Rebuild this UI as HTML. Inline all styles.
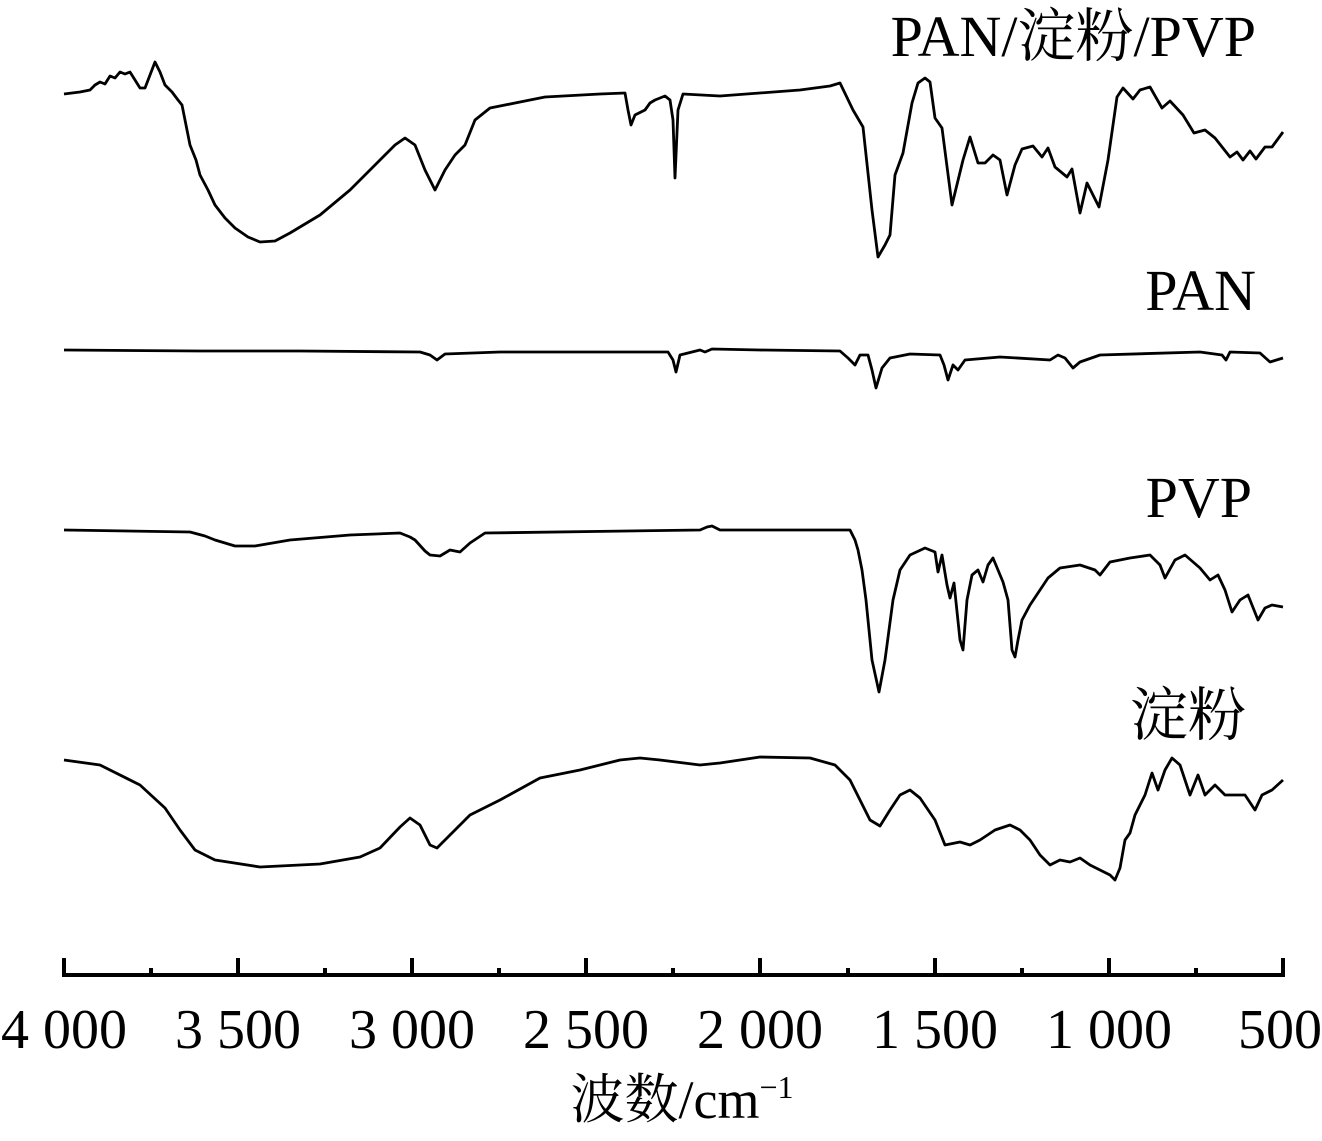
<!DOCTYPE html>
<html><head><meta charset="utf-8"><style>body{margin:0;background:#fff}</style></head><body>
<svg width="1322" height="1141" xmlns="http://www.w3.org/2000/svg" style="display:block">
<g fill="none" stroke="#000" stroke-width="2.8" stroke-linejoin="round">
<polyline points="64,94 80,92 90,90 95,85 100,82 105,84 110,76 115,78 120,72 125,74 130,72 135,80 140,88 145,88 150,75 155,62 160,72 165,85 172,92 178,100 182,105 185,120 190,145 196,160 200,175 208,190 215,205 225,218 235,228 248,237 260,242 275,241 290,233 320,215 350,190 380,160 395,145 405,138 415,145 425,170 435,190 445,170 455,155 465,145 475,120 490,108 520,102 545,97 600,94 625,93 628,110 631,125 635,115 645,110 650,103 655,100 665,96 670,100 673,120 675,178 678,110 683,94 720,96 800,90 830,86 840,83 853,110 863,127 872,210 878,257 885,245 890,235 895,175 903,153 912,103 918,83 925,78 930,82 935,118 942,128 952,205 963,160 970,137 978,163 985,163 993,155 1000,160 1007,195 1015,165 1022,149 1033,146 1042,157 1048,148 1055,167 1067,177 1072,169 1080,213 1087,183 1093,195 1099,207 1108,160 1117,97 1123,88 1133,99 1140,90 1150,87 1162,108 1170,101 1183,115 1194,133 1205,130 1215,138 1230,157 1237,152 1243,160 1250,151 1256,159 1265,147 1272,147 1283,132"/>
<polyline points="64,350 200,351 300,351 420,352 430,355 437,360 445,354 500,352 600,352 668,352 673,360 676,372 680,355 700,350 705,352 712,349 760,350 840,351 848,358 855,365 860,355 868,355 872,370 876,388 882,368 890,358 910,354 940,355 944,365 948,380 953,365 958,370 965,360 1000,357 1050,360 1058,355 1065,358 1073,368 1080,362 1100,355 1200,352 1222,355 1226,360 1230,352 1260,353 1270,362 1283,358"/>
<polyline points="64,530 190,532 205,536 215,540 235,546 255,546 290,540 350,535 400,533 410,537 415,540 425,551 430,555 440,556 450,550 460,552 470,543 485,533 700,530 707,527 712,526 720,530 850,530 855,540 858,550 862,570 866,600 872,660 879,692 885,660 893,600 900,570 910,555 925,548 935,552 938,572 942,555 947,585 950,598 954,583 960,640 963,650 967,600 972,575 978,570 983,582 988,565 993,558 998,570 1003,582 1008,600 1012,650 1015,657 1018,640 1022,620 1030,605 1040,590 1048,578 1060,568 1080,565 1095,570 1100,575 1110,562 1130,558 1150,555 1160,565 1165,578 1175,560 1185,555 1200,568 1210,580 1218,575 1225,590 1232,612 1240,600 1248,595 1258,620 1265,608 1272,605 1283,607"/>
<polyline points="64,760 100,765 140,785 165,808 180,830 195,850 215,860 260,867 320,864 360,857 380,848 400,827 410,818 420,825 430,845 437,848 450,835 470,815 500,800 540,778 580,770 620,760 640,758 660,760 700,765 720,763 740,760 760,757 810,758 835,765 850,780 860,800 870,820 880,826 890,810 900,795 910,790 920,798 935,820 945,845 960,842 970,845 980,840 995,830 1010,825 1020,830 1030,840 1040,855 1050,865 1060,860 1070,862 1080,858 1090,865 1100,870 1110,875 1115,880 1120,868 1125,840 1130,833 1135,815 1145,795 1152,773 1158,790 1165,770 1172,758 1180,765 1190,795 1198,775 1205,795 1215,785 1225,795 1245,795 1255,810 1262,795 1272,790 1283,780"/>
</g>
<g stroke="#000" stroke-width="4">
<line x1="62" y1="975" x2="1285" y2="975"/>
<line x1="64" y1="958" x2="64" y2="975"/><line x1="238" y1="958" x2="238" y2="975"/><line x1="412" y1="958" x2="412" y2="975"/><line x1="586" y1="958" x2="586" y2="975"/><line x1="760" y1="958" x2="760" y2="975"/><line x1="935" y1="958" x2="935" y2="975"/><line x1="1109" y1="958" x2="1109" y2="975"/><line x1="1283" y1="958" x2="1283" y2="975"/>
<line x1="151" y1="968" x2="151" y2="975"/><line x1="325" y1="968" x2="325" y2="975"/><line x1="499" y1="968" x2="499" y2="975"/><line x1="673" y1="968" x2="673" y2="975"/><line x1="848" y1="968" x2="848" y2="975"/><line x1="1022" y1="968" x2="1022" y2="975"/><line x1="1196" y1="968" x2="1196" y2="975"/>
</g>
<g font-family="'Liberation Serif','Noto Serif CJK SC',serif" font-size="56" fill="#000" text-anchor="middle">
<text x="64" y="1048">4 000</text><text x="238" y="1048">3 500</text><text x="412" y="1048">3 000</text><text x="586" y="1048">2 500</text><text x="760" y="1048">2 000</text><text x="935" y="1048">1 500</text><text x="1109" y="1048">1 000</text><text x="1280" y="1048">500</text>
<text x="682" y="1118" font-size="54">波数/cm<tspan font-size="32" dy="-20">−1</tspan></text>
</g>
<g font-family="'Liberation Serif','Noto Serif CJK SC',serif" font-size="58" fill="#000" text-anchor="end">
<text x="1256" y="56">PAN/淀粉/PVP</text>
<text x="1256" y="310">PAN</text>
<text x="1252" y="517">PVP</text>
<text x="1246" y="735">淀粉</text>
</g>
</svg>
</body></html>
